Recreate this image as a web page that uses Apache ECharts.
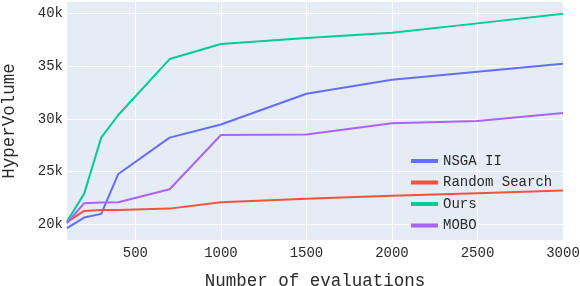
<!DOCTYPE html>
<html><head><meta charset="utf-8">
<script src="https://cdn.jsdelivr.net/npm/echarts@6/dist/echarts.min.js"></script>
<style>html,body{margin:0;padding:0;background:#fff}#c{width:580px;height:286px}</style>
</head><body><div id="c"></div>
<script>
const evaluations = [100, 200, 300, 400, 700, 1000, 1500, 2000, 2500, 3000];
const nsga2 = [19620, 20630, 20980, 24770, 28220, 29470, 32390, 33720, 34480, 35240];
const randomSearch = [20200, 21260, 21350, 21360, 21480, 22090, 22420, 22700, 22950, 23200];
const ours = [20250, 22880, 28220, 30370, 35680, 37110, 37680, 38180, 39070, 39980];
const mobo = [20100, 21990, 22050, 22090, 23320, 28470, 28520, 29580, 29800, 30560];
const xTicks = [500, 1000, 1500, 2000, 2500, 3000];
const yTicks = [20000, 25000, 30000, 35000, 40000];
const seriesNames = ['NSGA II', 'Random Search', 'Ours', 'MOBO'];
const colors = ['#636efa', '#EF553B', '#00cc96', '#ab63fa'];
const FONT = 'Liberation Mono';
const chart = echarts.init(document.getElementById('c'));
const values = [nsga2, randomSearch, ours, mobo];
chart.setOption({
  animation: false,
  color: colors,
  textStyle: {fontFamily: FONT},
  grid: {left: 67, right: 17, top: 2, bottom: 46, show: true, backgroundColor: '#E5ECF6', borderWidth: 0,
    containLabel: false, outerBoundsMode: 'none'},
  legend: {
    orient: 'vertical', left: 411, top: 153, padding: 0,
    itemWidth: 27, itemHeight: 4, itemGap: 5.5,
    icon: 'rect',
    textStyle: {fontFamily: FONT, fontSize: 14, color: '#2a2a2a', lineHeight: 16, padding: [0,0,0,0]},
    data: seriesNames
  },
  xAxis: {
    type: 'value', min: 100, max: 3000,
    name: 'Number of evaluations', nameLocation: 'middle', nameGap: 32,
    nameTextStyle: {fontFamily: FONT, fontSize: 17.5, color: '#2a2a2a'},
    axisLine: {show: false}, axisTick: {show: false, customValues: xTicks},
    axisLabel: {customValues: xTicks, fontFamily: FONT, fontSize: 14, color: '#2a2a2a', margin: 6,
      formatter: v => String(v)},
    splitLine: {show: true, lineStyle: {color: '#ffffff', width: 1}, customValues: xTicks}
  },
  yAxis: {
    type: 'value', min: 18500, max: 41100,
    name: 'HyperVolume', nameLocation: 'middle', nameGap: 49,
    nameTextStyle: {fontFamily: FONT, fontSize: 17.5, color: '#2a2a2a'},
    axisLine: {show: false}, axisTick: {show: false, customValues: yTicks},
    axisLabel: {customValues: yTicks, fontFamily: FONT, fontSize: 14, color: '#2a2a2a', margin: 4,
      formatter: v => (v / 1000) + 'k'},
    splitLine: {show: true, lineStyle: {color: '#ffffff', width: 1}, customValues: yTicks}
  },
  series: seriesNames.map((n, i) => ({
    name: n, type: 'line', showSymbol: false, symbol: 'none',
    lineStyle: {width: 2, color: colors[i]},
    data: evaluations.map((x, j) => [x, values[i][j]])
  }))
});
</script></body></html>
